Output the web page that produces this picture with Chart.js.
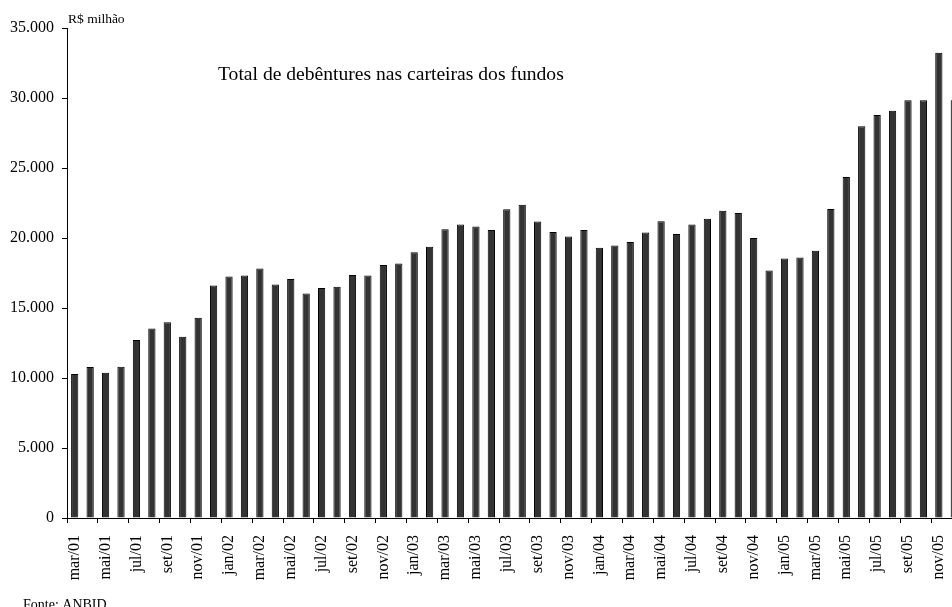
<!DOCTYPE html>
<html>
<head>
<meta charset="utf-8">
<script src="https://cdn.jsdelivr.net/npm/chart.js@4"></script>
<style>
  html, body { margin: 0; padding: 0; background: #fff; overflow: hidden; }
  #wrap { width: 952px; height: 607px; overflow: hidden; position: relative; }
  #box { width: 980px; height: 607px; }
</style>
</head>
<body>
<div id="wrap"><div id="box"><canvas id="chart"></canvas></div></div>
<script>
// meses (mar/01 .. dez/05) - só os pares aparecem no eixo
const months = [
  'mar/01','abr/01','mai/01','jun/01','jul/01','ago/01','set/01','out/01','nov/01','dez/01',
  'jan/02','fev/02','mar/02','abr/02','mai/02','jun/02','jul/02','ago/02','set/02','out/02','nov/02','dez/02',
  'jan/03','fev/03','mar/03','abr/03','mai/03','jun/03','jul/03','ago/03','set/03','out/03','nov/03','dez/03',
  'jan/04','fev/04','mar/04','abr/04','mai/04','jun/04','jul/04','ago/04','set/04','out/04','nov/04','dez/04',
  'jan/05','fev/05','mar/05','abr/05','mai/05','jun/05','jul/05','ago/05','set/05','out/05','nov/05','dez/05'
];

// total de debêntures, R$ milhão
const debentures = [
  10290, 10780, 10380, 10810, 12710, 13540, 13990, 12950, 14310, 16610,
  17250, 17320, 17820, 16680, 17070, 16040, 16420, 16520, 17350, 17330, 18080, 18170,
  18990, 19370, 20630, 20960, 20820, 20580, 22060, 22370, 21170, 20430, 20110, 20580,
  19300, 19470, 19720, 20400, 21190, 20280, 20970, 21380, 21940, 21790, 20000, 17670,
  18540, 18610, 19090, 22070, 24350, 27980, 28790, 29090, 29840, 29840, 33230, 29840
];

const yMax = 35000;
const yStep = 5000;

const serif = '"Liberation Serif", "Times New Roman", serif';

function fmt(v) {
  return String(v).replace(/\B(?=(\d{3})+(?!\d))/g, '.');
}

// textos soltos (unidade, título, fonte)
const textos = {
  id: 'textos',
  afterDraw(chart) {
    const c = chart.ctx;
    c.save();
    c.fillStyle = '#000';
    c.textBaseline = 'alphabetic';
    c.textAlign = 'left';
    c.font = '13.5px ' + serif;
    c.fillText('R$ milhão', 68, 22.5);
    c.font = '19.6px ' + serif;
    c.fillText('Total de debêntures nas carteiras dos fundos', 218, 80);
    c.font = '14px ' + serif;
    c.fillText('Fonte: ANBID', 23, 608.5);
    c.restore();
  }
};

new Chart(document.getElementById('chart'), {
  type: 'bar',
  data: {
    labels: months,
    datasets: [{
      data: debentures,
      backgroundColor: '#333333',
      borderColor: '#000000',
      borderWidth: 1,
      barPercentage: 0.47,
      categoryPercentage: 1
    }]
  },
  options: {
    responsive: true,
    maintainAspectRatio: false,
    animation: false,
    layout: { padding: { left: 0, right: 18, top: 28, bottom: 0 } },
    plugins: { legend: { display: false }, tooltip: { enabled: false } },
    scales: {
      x: {
        offset: true,
        border: { display: true, color: '#000', width: 1 },
        grid: {
          offset: true,
          drawOnChartArea: false,
          drawTicks: true,
          tickLength: 5,
          color: (ctx) => ctx.index % 2 === 0 ? '#000' : 'rgba(0,0,0,0)'
        },
        ticks: {
          autoSkip: false,
          minRotation: 90,
          maxRotation: 90,
          padding: 12,
          color: '#000',
          font: { family: serif, size: 16 },
          callback: (v, i) => i % 2 === 0 ? months[i] : ''
        },
        afterFit: (s) => {
          s.height = 89;
          s.paddingLeft = 0;
          s.paddingRight = 0;
        }
      },
      y: {
        min: 0,
        max: yMax,
        border: { display: true, color: '#000', width: 1 },
        grid: {
          drawOnChartArea: false,
          drawTicks: true,
          tickLength: 5,
          color: '#000'
        },
        ticks: {
          stepSize: yStep,
          padding: 8,
          color: '#000',
          font: { family: serif, size: 16 },
          callback: (v) => fmt(v)
        },
        afterFit: (s) => { s.width = 67; }
      }
    }
  },
  plugins: [textos]
});
</script>
</body>
</html>
